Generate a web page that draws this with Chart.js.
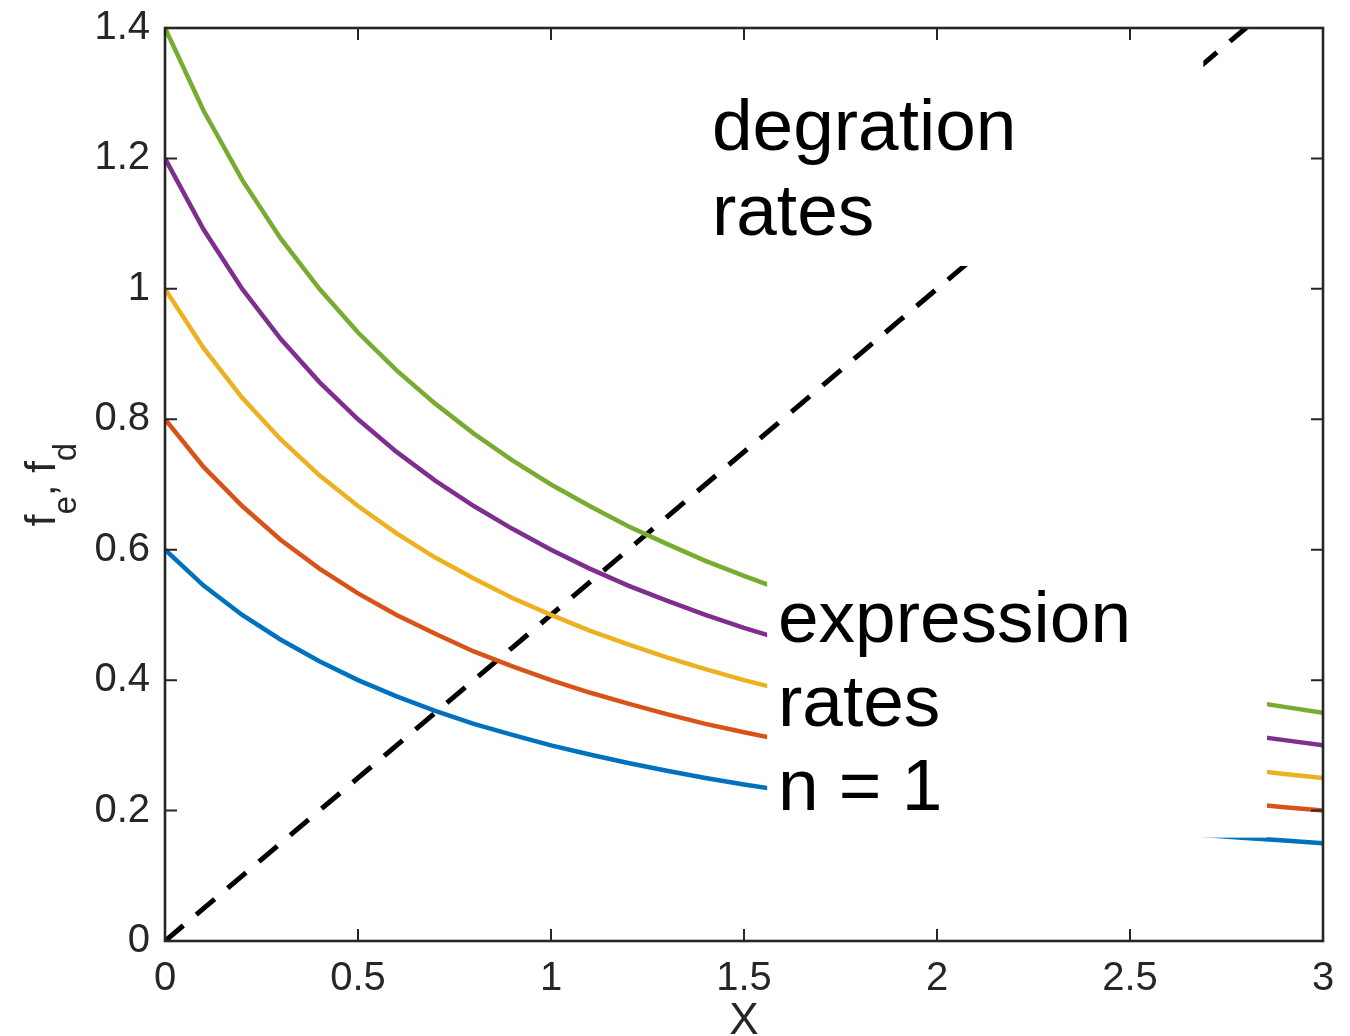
<!DOCTYPE html>
<html>
<head>
<meta charset="utf-8">
<script src="https://cdn.jsdelivr.net/npm/chart.js@4.4.1/dist/chart.umd.min.js"></script>
<style>
  html, body { margin: 0; padding: 0; background: #ffffff; }
  #wrap { width: 1350px; height: 1036px; }
</style>
</head>
<body>
<div id="wrap"><canvas id="c" width="1350" height="1036"></canvas></div>
<script>
// ---- data ----
const xValues = [0, 0.1, 0.2, 0.3, 0.4, 0.5, 0.6, 0.7, 0.8, 0.9, 1.0,
                 1.1, 1.2, 1.3, 1.4, 1.5, 1.6, 1.7, 1.8, 1.9, 2.0,
                 2.1, 2.2, 2.3, 2.4, 2.5, 2.6, 2.7, 2.8, 2.9, 3.0];

const expr06 = [0.600, 0.545, 0.500, 0.462, 0.429, 0.400, 0.375, 0.353, 0.333, 0.316, 0.300,
                0.286, 0.273, 0.261, 0.250, 0.240, 0.231, 0.222, 0.214, 0.207, 0.200,
                0.194, 0.188, 0.182, 0.176, 0.171, 0.167, 0.162, 0.158, 0.154, 0.150];
const expr08 = [0.800, 0.727, 0.667, 0.615, 0.571, 0.533, 0.500, 0.471, 0.444, 0.421, 0.400,
                0.381, 0.364, 0.348, 0.333, 0.320, 0.308, 0.296, 0.286, 0.276, 0.267,
                0.258, 0.250, 0.242, 0.235, 0.229, 0.222, 0.216, 0.211, 0.205, 0.200];
const expr10 = [1.000, 0.909, 0.833, 0.769, 0.714, 0.667, 0.625, 0.588, 0.556, 0.526, 0.500,
                0.476, 0.455, 0.435, 0.417, 0.400, 0.385, 0.370, 0.357, 0.345, 0.333,
                0.323, 0.313, 0.303, 0.294, 0.286, 0.278, 0.270, 0.263, 0.256, 0.250];
const expr12 = [1.200, 1.091, 1.000, 0.923, 0.857, 0.800, 0.750, 0.706, 0.667, 0.632, 0.600,
                0.571, 0.545, 0.522, 0.500, 0.480, 0.462, 0.444, 0.429, 0.414, 0.400,
                0.387, 0.375, 0.364, 0.353, 0.343, 0.333, 0.324, 0.316, 0.308, 0.300];
const expr14 = [1.400, 1.273, 1.167, 1.077, 1.000, 0.933, 0.875, 0.824, 0.778, 0.737, 0.700,
                0.667, 0.636, 0.609, 0.583, 0.560, 0.538, 0.519, 0.500, 0.483, 0.467,
                0.452, 0.438, 0.424, 0.412, 0.400, 0.389, 0.378, 0.368, 0.359, 0.350];
const degradation = [0.00, 0.05, 0.10, 0.15, 0.20, 0.25, 0.30, 0.35, 0.40, 0.45, 0.50,
                     0.55, 0.60, 0.65, 0.70, 0.75, 0.80, 0.85, 0.90, 0.95, 1.00,
                     1.05, 1.10, 1.15, 1.20, 1.25, 1.30, 1.35, 1.40, 1.45, 1.50];

const xTickValues = [0, 0.5, 1, 1.5, 2, 2.5, 3];
const xTickLabels = ['0', '0.5', '1', '1.5', '2', '2.5', '3'];
const yTickValues = [0, 0.2, 0.4, 0.6, 0.8, 1.0, 1.2, 1.4];
const yTickLabels = ['0', '0.2', '0.4', '0.6', '0.8', '1', '1.2', '1.4'];

const exprLabelLines = ['expression', 'rates', 'n = 1'];
const degrLabelLines = ['degration', 'rates'];
const xAxisTitle = 'X';

// ---- styling ----
const seriesColors = ['#0072BD', '#D95319', '#EDB120', '#7E2F8E', '#77AC30'];
const axisColor = '#262626';
const FONT = '"Liberation Sans", Arial, Helvetica, sans-serif';

function pts(ys) { return xValues.map((x, i) => ({ x: x, y: ys[i] })); }

const exprSeries = [expr06, expr08, expr10, expr12, expr14];
const datasets = exprSeries.map((s, i) => ({
  data: pts(s),
  borderColor: seriesColors[i],
  borderWidth: 4.5,
  pointRadius: 0,
  tension: 0,
  fill: false
}));
datasets.push({
  data: pts(degradation),
  borderColor: '#000000',
  borderWidth: 5,
  borderDash: [24, 17],
  borderCapStyle: 'butt',
  pointRadius: 0,
  tension: 0,
  fill: false
});

// annotation boxes, in data coordinates (white text backgrounds)
const exprBox = { x0: 1.56, x1: 2.855, y0: 0.1585, y1: 0.575 };
const degrBox = { x0: 1.38, x1: 2.69, y0: 1.035, y1: 1.6 };

const overlayPlugin = {
  id: 'overlay',
  afterDatasetsDraw(chart) {
    const { ctx, chartArea: a, scales: { x, y } } = chart;
    ctx.save();
    ctx.beginPath();
    ctx.rect(a.left, a.top, a.right - a.left, a.bottom - a.top);
    ctx.clip();
    ctx.fillStyle = '#ffffff';
    [exprBox, degrBox].forEach(b => {
      const l = x.getPixelForValue(b.x0), r = x.getPixelForValue(b.x1);
      const t = y.getPixelForValue(b.y1), bt = y.getPixelForValue(b.y0);
      ctx.fillRect(l, t, r - l, bt - t);
    });
    ctx.restore();

    ctx.save();
    ctx.fillStyle = '#000000';
    ctx.font = '300 73px ' + FONT;
    ctx.textAlign = 'left';
    ctx.textBaseline = 'alphabetic';
    const ex = x.getPixelForValue(1.588);
    const eBase = y.getPixelForValue(0.4585);
    exprLabelLines.forEach((s, i) => ctx.fillText(s, ex, eBase + i * 84));
    const dx = x.getPixelForValue(1.417);
    const dBase = y.getPixelForValue(1.2132);
    degrLabelLines.forEach((s, i) => ctx.fillText(s, dx, dBase + i * 85));
    ctx.restore();
  },
  afterDraw(chart) {
    const { ctx, chartArea: a, scales: { x, y } } = chart;
    ctx.save();
    ctx.strokeStyle = axisColor;
    ctx.lineWidth = 2;
    const tl = 12;
    ctx.beginPath();
    xTickValues.forEach(v => {
      const px = x.getPixelForValue(v);
      ctx.moveTo(px, a.bottom); ctx.lineTo(px, a.bottom - tl);
      ctx.moveTo(px, a.top); ctx.lineTo(px, a.top + tl);
    });
    yTickValues.forEach(v => {
      const py = y.getPixelForValue(v);
      ctx.moveTo(a.left, py); ctx.lineTo(a.left + tl, py);
      ctx.moveTo(a.right, py); ctx.lineTo(a.right - tl, py);
    });
    ctx.stroke();
    ctx.lineWidth = 2.6;
    ctx.strokeRect(a.left, a.top, a.right - a.left, a.bottom - a.top);

    // x axis title
    ctx.fillStyle = axisColor;
    ctx.font = '44px ' + FONT;
    ctx.textAlign = 'center';
    ctx.textBaseline = 'alphabetic';
    ctx.fillText(xAxisTitle, (a.left + a.right) / 2, a.bottom + 93);

    // y axis title  f_e, f_d  (rotated, with subscripts)
    const parts = [
      { t: 'f', sub: false }, { t: 'e', sub: true },
      { t: ', ', sub: false },
      { t: 'f', sub: false }, { t: 'd', sub: true }
    ];
    const mainFont = '42px ' + FONT, subFont = '33px ' + FONT;
    ctx.translate(a.left - 110, (a.top + a.bottom) / 2);
    ctx.rotate(-Math.PI / 2);
    let total = 0;
    parts.forEach(p => { ctx.font = p.sub ? subFont : mainFont; p.w = ctx.measureText(p.t).width; total += p.w; });
    let cx = -total / 2;
    ctx.textAlign = 'left';
    parts.forEach(p => {
      ctx.font = p.sub ? subFont : mainFont;
      ctx.fillText(p.t, cx, p.sub ? 21 : 0);
      cx += p.w;
    });
    ctx.restore();
  }
};

function noPad(s) { s.paddingTop = 0; s.paddingBottom = 0; s.paddingLeft = 0; s.paddingRight = 0; }

new Chart(document.getElementById('c'), {
  type: 'line',
  data: { datasets: datasets },
  options: {
    responsive: false,
    animation: false,
    events: [],
    layout: { padding: { top: 28, right: 27, left: 0, bottom: 0 } },
    plugins: { legend: { display: false }, tooltip: { enabled: false } },
    scales: {
      x: {
        type: 'linear', min: 0, max: 3,
        afterBuildTicks: s => { s.ticks = xTickValues.map(v => ({ value: v })); },
        afterFit: s => { s.height = 95; noPad(s); },
        grid: { display: false, drawTicks: false },
        border: { display: false },
        ticks: {
          color: axisColor, padding: 14,
          font: { family: FONT, size: 40 },
          maxRotation: 0,
          callback: (v) => xTickLabels[xTickValues.indexOf(v)] ?? ''
        }
      },
      y: {
        type: 'linear', min: 0, max: 1.4,
        afterBuildTicks: s => { s.ticks = yTickValues.map(v => ({ value: v })); },
        afterFit: s => { s.width = 165; noPad(s); },
        grid: { display: false, drawTicks: false },
        border: { display: false },
        ticks: {
          color: axisColor, padding: 15,
          font: { family: FONT, size: 40 },
          callback: (v) => {
            const i = yTickValues.findIndex(t => Math.abs(t - v) < 1e-9);
            return i >= 0 ? yTickLabels[i] : '';
          }
        }
      }
    }
  },
  plugins: [overlayPlugin]
});
</script>
</body>
</html>
